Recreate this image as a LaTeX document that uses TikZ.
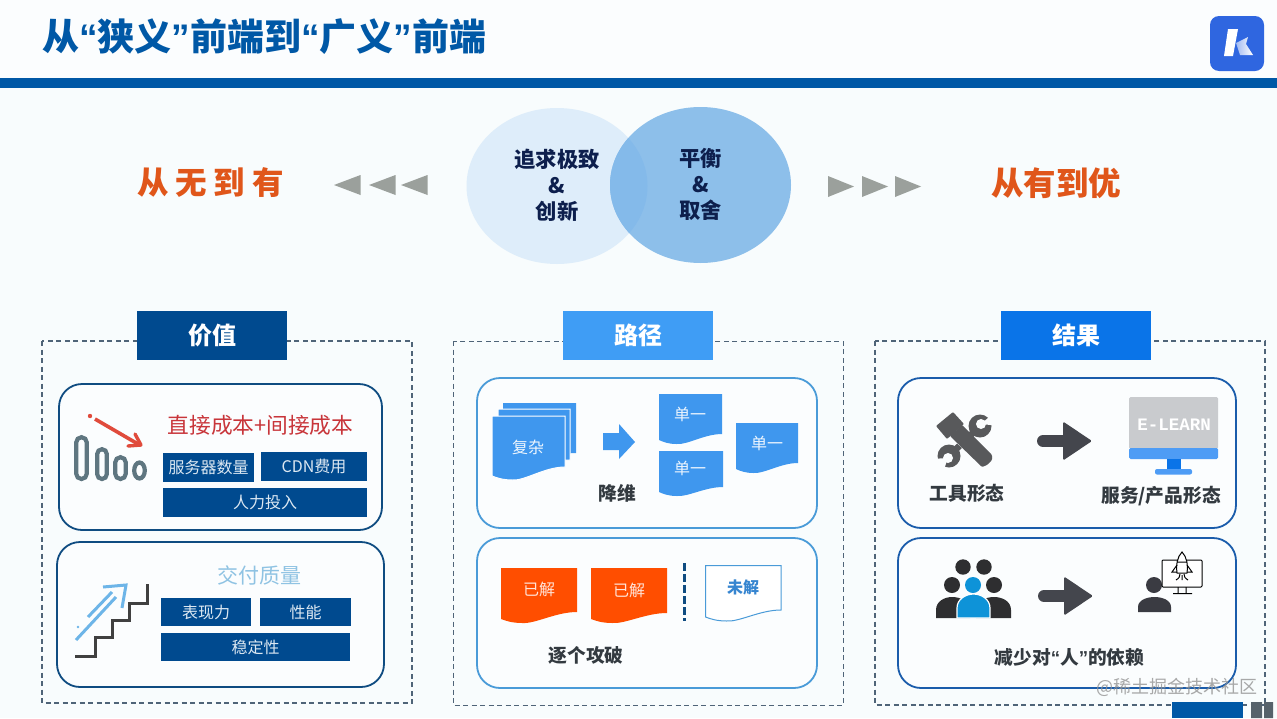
\documentclass[tikz,border=0pt]{standalone}
\usepackage{fontspec}
\setmainfont{Noto Sans CJK SC}
\newfontfamily\lat{Liberation Sans}
\newfontfamily\mon{Liberation Mono}
\definecolor{bgc}{HTML}{F8FCFD}
\definecolor{cardbg}{HTML}{FBFDFE}
\definecolor{navy}{HTML}{004A8F}
\definecolor{sky}{HTML}{3F9DF5}
\definecolor{vivid}{HTML}{0A74E8}
\definecolor{band}{HTML}{0058A6}
\definecolor{dashc}{HTML}{4F6478}
\definecolor{darkarrow}{HTML}{44464D}
\definecolor{lab}{HTML}{333A40}
\definecolor{orangec}{HTML}{FF4E00}
\definecolor{lite}{HTML}{DCE8F2}
\definecolor{trig}{HTML}{9BA09C}
\tikzset{
 txt/.style={inner sep=0pt,outer sep=0pt,align=center},
 head/.style={txt,font=\bfseries\fontsize{24}{26}\selectfont,text=white,minimum width=150pt,minimum height=49pt},
 card/.style={line width=1.8pt,rounded corners=23pt,fill=cardbg},
 frame/.style={draw=dashc,line width=1.3pt,dash pattern=on 5pt off 3.5pt},
 tag/.style={txt,fill=navy,text=lite,font=\fontsize{16}{18}\selectfont},
 lbl/.style={txt,text=lab,font=\bfseries\fontsize{18.7}{20}\selectfont},
 doctxt/.style={txt,font=\fontsize{16}{18}\selectfont,text=white!90!sky},
 tri/.style={fill=trig,draw=none},
}
\newcommand{\docpath}[5]{(#1,#2) -- (#3,#2) -- (#3,#4) .. controls ({#1+0.72*(#3-#1)},#4) and ({#1+0.45*(#3-#1)},#5+1) .. ({#1+0.28*(#3-#1)},#5) .. controls ({#1+0.15*(#3-#1)},#5) and ({#1+0.07*(#3-#1)},#5-2) .. (#1,#5-4) -- cycle}
\newcommand{\qq}[1]{{\lat #1}}
\begin{document}
\begin{tikzpicture}[x=1pt,y=-1pt]
\useasboundingbox (0,0) rectangle (1277,718);
\fill[bgc] (0,0) rectangle (1277,718);
\fill[cardbg] (0,0) rectangle (1277,78);
% header
\fill[band] (0,78) rectangle (1277,88);
\node[txt,anchor=west,text=band,font=\bfseries\fontsize{37}{39}\selectfont] (title) at (42,37) {从\qq{“}狭义\qq{”}前端到\qq{“}广义\qq{”}前端};
% logo
\definecolor{logoc}{HTML}{2F66E0}
\fill[logoc,rounded corners=9pt] (1210,16) rectangle (1264,71);
\fill[white] (1228,29) -- (1238,29) -- (1233,56) -- (1224,56) -- cycle;
\shade[left color=logoc!45!white,right color=white] (1236,43) -- (1248,37) -- (1246,44) -- (1253,55) -- (1240,55) -- cycle;
% top: circles
\definecolor{cl}{HTML}{DEEDFA}
\definecolor{cr}{HTML}{8DBFEA}
\definecolor{co}{HTML}{84BAEA}
\fill[cl] (557,186) ellipse [x radius=90.5pt,y radius=78pt];
\fill[cr] (700.5,185) ellipse [x radius=90.5pt,y radius=78pt];
\begin{scope}
\clip (557,186) ellipse [x radius=90.5pt,y radius=78pt];
\fill[co] (700.5,185) ellipse [x radius=90.5pt,y radius=78pt];
\end{scope}
\definecolor{ink}{HTML}{0D1F4D}
\node[txt,text=ink,font=\bfseries\fontsize{21.3}{26}\selectfont] (a1) at (557,185) {追求极致\\\&\\创新};
\node[txt,text=ink,font=\bfseries\fontsize{21.3}{26}\selectfont] (a2) at (700.5,184) {平衡\\\&\\取舍};
\definecolor{orl}{HTML}{E0561A}
\node[txt,text=orl,font=\bfseries\fontsize{31.5}{33}\selectfont] (wu) at (210.5,183) {从\hspace{7pt}无\hspace{7pt}到\hspace{7pt}有};
\node[txt,text=orl,font=\bfseries\fontsize{32.5}{34}\selectfont] (you) at (1056,183) {从有到优};
\foreach \x in {334,369,401} \fill[tri] (\x,185) -- (\x+26.5,175) -- (\x+26.5,195) -- cycle;
\foreach \x in {828,862,895} \fill[tri] (\x+26,186.5) -- (\x,176) -- (\x,197) -- cycle;
% frames
\draw[frame] (42,341) rectangle (412,703);
\draw[frame,line width=1pt] (453,341) rectangle (843,705);
\draw[frame] (875,341) rectangle (1265,705);
\node[head,fill=navy] (h1) at (212,335.5) {价值};
\node[head,fill=sky] (h2) at (638,335) {路径};
\node[head,fill=vivid] (h3) at (1076,335.5) {结果};
% cards
\definecolor{c1}{HTML}{0F4C81}
\definecolor{c2}{HTML}{4A9BD8}
\definecolor{c3}{HTML}{1A5CAB}
\draw[card,draw=c1] (59,384) rectangle (382,530);
\draw[card,draw=c1] (57,542) rectangle (384,687);
\draw[card,draw=c2] (477,378) rectangle (817,528);
\draw[card,draw=c2] (477,538) rectangle (817,688);
\draw[card,draw=c3] (898,378) rectangle (1236,528);
\draw[card,draw=c3] (898,538) rectangle (1236,688);
% value card 1
\definecolor{redt}{HTML}{C8353A}
\node[txt,text=redt,font=\fontsize{21.7}{23}\selectfont] (t1) at (260.5,425) {直接成本+间接成本};
\node[tag,minimum width=91pt,minimum height=29pt] (b1) at (208.5,467.5) {服务器数量};
\node[tag,minimum width=106pt,minimum height=29pt] (b2) at (314,466.5) {CDN费用};
\node[tag,minimum width=204pt,minimum height=29pt] (b3) at (265,502.5) {人力投入};
\definecolor{bars}{HTML}{5F7680}
\begin{scope}[line width=4.2pt]
\draw[bars] (76.2,442.5) arc[start angle=180,end angle=360,x radius=5.3pt,y radius=-5.3pt] -- (86.8,473.7) arc[start angle=0,end angle=180,x radius=5.3pt,y radius=-5.3pt] -- cycle;
\draw[bars] (97.2,454) arc[start angle=180,end angle=360,x radius=4.8pt,y radius=-4.8pt] -- (106.8,474.2) arc[start angle=0,end angle=180,x radius=4.8pt,y radius=-4.8pt] -- cycle;
\draw[bars] (115.2,462.5) arc[start angle=180,end angle=360,x radius=5.3pt,y radius=-5.3pt] -- (125.8,473.7) arc[start angle=0,end angle=180,x radius=5.3pt,y radius=-5.3pt] -- cycle;
\draw[bars] (139.5,470.5) ellipse [x radius=5.3pt,y radius=8pt];
\end{scope}
\definecolor{redar}{HTML}{E04B3C}
\fill[redar] (90,416) circle (2.2pt);
\draw[redar,line width=3.6pt] (95,419) -- (138,444);
\draw[redar,line width=3.4pt,line cap=round,line join=round] (135,434) -- (141,445) -- (128,446);
% value card 2
\definecolor{bluet}{HTML}{8FC3E3}
\node[txt,text=bluet,font=\fontsize{21}{23}\selectfont] (t2) at (259.5,575) {交付质量};
\node[tag,minimum width=90pt,minimum height=28pt] (b4) at (206,612) {表现力};
\node[tag,minimum width=91pt,minimum height=28pt] (b5) at (305.5,612) {性能};
\node[tag,minimum width=189pt,minimum height=28pt] (b6) at (255.5,647) {稳定性};
\draw[black!75,line width=3pt] (75,656) -- (95,656) -- (95,637) -- (112,637) -- (112,620) -- (129,620) -- (129,603) -- (147,603) -- (147,584);
\definecolor{aru}{HTML}{6DB5E8}
\draw[aru,line width=3pt] (76,640) -- (116,597) (88,617) -- (112,592) (103,587) -- (126,585) -- (122,608);
\fill[aru] (78,627) circle (1.3pt);
% route card 1
\definecolor{docb}{HTML}{3F97EE}
\fill[docb] \docpath{503}{403}{576}{453}{463};
\draw[white,line width=1pt,fill=docb] \docpath{498}{409}{570}{460}{470};
\draw[white,line width=1pt,fill=docb] \docpath{492}{416}{565}{467}{480};
\node[doctxt] (d0) at (528,447) {复杂};
\fill[docb] (603,433) -- (619,433) -- (619,424) -- (635,442) -- (619,459) -- (619,450) -- (603,450) -- cycle;
\fill[docb] \docpath{659}{394}{722}{434}{444};
\fill[docb] \docpath{659}{451}{723}{487}{496};
\fill[docb] \docpath{736}{423}{798}{463}{473};
\node[doctxt] (d1) at (690,414) {单一};
\node[doctxt] (d2) at (690,468) {单一};
\node[doctxt] (d3) at (767,443) {单一};
\node[lbl] (l1) at (617,493) {降维};
% route card 2
\fill[orangec] \docpath{501}{568}{577}{612}{623};
\fill[orangec] \docpath{591}{568}{667}{613}{623};
\draw[c2,line width=1pt,fill=white] \docpath{705.5}{565.5}{781}{610}{621};
\node[doctxt,text=white!85!orangec] (e1) at (539,589) {已解};
\node[doctxt,text=white!85!orangec] (e2) at (629,590) {已解};
\node[doctxt,text=sky!85!black,font=\bfseries\fontsize{16}{18}\selectfont] (e3) at (743,587) {未解};
\draw[c1,line width=3pt,dash pattern=on 8pt off 3pt] (684,563) -- (684,621);
\node[lbl] (l2) at (586,655) {逐个攻破};
% result card 1: tools
\definecolor{tool}{HTML}{58595B}
\draw[tool,line width=6.5pt] (980,426) -- (949,456);
\fill[tool] (980,426) circle (11.5pt);
\fill[cardbg] (981,424) circle (5pt);
\fill[cardbg] (981,424) -- (996,411) -- (1000,426) -- cycle;
\fill[tool] (949,456) circle (11.5pt);
\fill[cardbg] (948,458) circle (5pt);
\fill[cardbg] (948,458) -- (931,459) -- (942,475) -- cycle;
\draw[cardbg,line width=15pt] (955,431) -- (987,461);
\fill[tool,rounded corners=1pt] (962,425) -- (992,455) -- (992,460) -- (987,465) -- (982,467) -- (950,436) -- cycle;
\fill[tool,rounded corners=1pt] (953,412) -- (936,426) -- (947,439) -- (964,424) -- cycle;
\node[lbl] (l3) at (967,493) {工具形态};
\newcommand{\fatarrow}[2]{%
  \fill[darkarrow,rounded corners=1.5pt] (#1+26,#2-19.5) -- (#1+55,#2) -- (#1+26,#2+19.5) -- cycle;
  \draw[darkarrow,line width=12pt,line cap=round] (#1+6,#2) -- (#1+28,#2);}
\fatarrow{1037}{441}
\fatarrow{1038}{596}
\definecolor{scr}{HTML}{C9CBCE}
\definecolor{strip}{HTML}{4E9CF5}
\fill[scr,rounded corners=1.5pt] (1129,397) rectangle (1218,449);
\fill[strip,rounded corners=1.5pt] (1129,448) rectangle (1218,459);
\fill[vivid] (1167,459) rectangle (1181,470);
\fill[strip,rounded corners=2pt] (1155,469) rectangle (1192,474.5);
\node[txt,text=white,font=\mon\bfseries\fontsize{17.5}{19}\selectfont] (el) at (1174,425) {E-LEARN};
\node[lbl] (l4) at (1161,496) {服务/产品形态};
% result card 2: people
\definecolor{dk}{HTML}{2E2E30}
\definecolor{cy}{HTML}{0E93D8}
\fill[dk] (963,567) circle (7.7pt) (984,567) circle (7.7pt) (952,585) circle (8pt) (994,585) circle (8pt);
\fill[cy] (973,585) circle (8pt);
\fill[dk] (936,618) -- (936,610) .. controls (936,601) and (945,597) .. (952,597) .. controls (960,597) and (970,601) .. (970,610) -- (970,618) -- cycle;
\fill[dk] (1011,618) -- (1011,610) .. controls (1011,601) and (1002,597) .. (994,597) .. controls (986,597) and (976,601) .. (976,610) -- (976,618) -- cycle;
\draw[white,line width=1.2pt,fill=cy] (957,618) -- (957,608) .. controls (957,599) and (966,594) .. (973.5,594) .. controls (981,594) and (990,599) .. (990,608) -- (990,618) -- cycle;
\fill[darkarrow!85!black] (1154,585) circle (8pt);
\fill[darkarrow!85!black] (1138,612) -- (1138,607) .. controls (1138,600) and (1147,597) .. (1154.5,597) .. controls (1162,597) and (1171,600) .. (1171,607) -- (1171,612) -- cycle;
\draw[black,line width=1pt,fill=white,rounded corners=1pt] (1162,560) rectangle (1202,587);
\draw[black,line width=1pt,fill=white] (1182,552) .. controls (1177,557) and (1176,565) .. (1177,573) -- (1187,573) .. controls (1188,565) and (1187,557) .. (1182,552) -- cycle;
\draw[black,line width=1pt] (1177,565) -- (1172,572) -- (1177,572) (1187,565) -- (1192,572) -- (1187,572) (1176,580) .. controls (1179,578) and (1180,577) .. (1180,574) (1188,580) .. controls (1185,578) and (1184,577) .. (1184,574) (1182,575) -- (1182,580) (1178,587) -- (1178,593) (1186,587) -- (1186,593) (1173,593.5) -- (1192,593.5) (1177,562) -- (1187,562);
\node[lbl] (l5) at (1069.5,657) {减少对\qq{“}人\qq{”}的依赖};
% bottom-right
\definecolor{pagec}{HTML}{56626B}
\fill[band] (1172,702) rectangle (1243,718);
\fill[pagec] (1251,702) rectangle (1262,718) (1264,702) rectangle (1273,718);
\node[txt,text=gray!85,font=\fontsize{18}{20}\selectfont,opacity=.8] (wm) at (1177,687) {@稀土掘金技术社区};
\end{tikzpicture}
\end{document}
